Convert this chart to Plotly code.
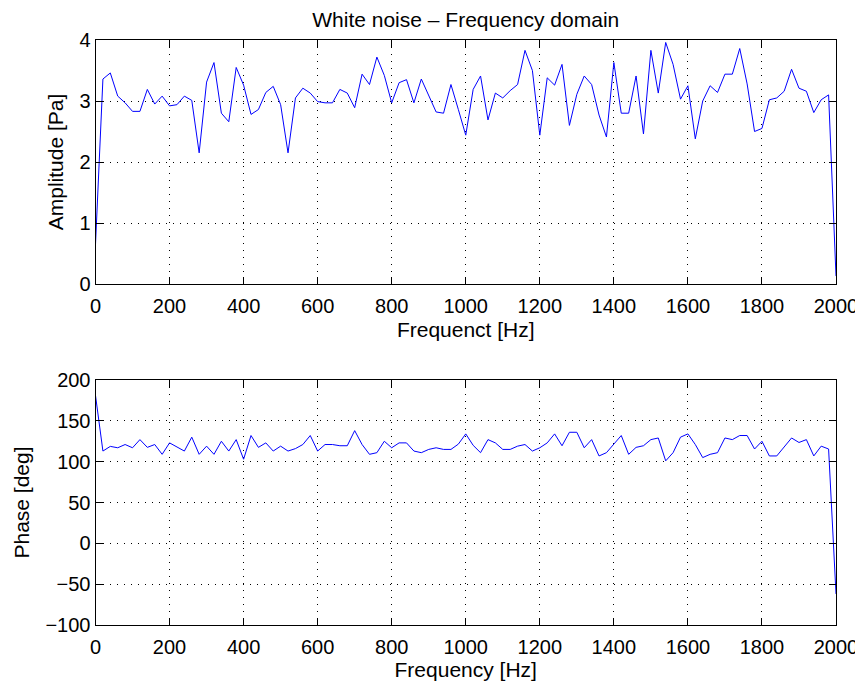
import plotly.graph_objects as go
from plotly.subplots import make_subplots

freq_hz = [0, 20, 40, 60, 80, 100, 120, 140, 160, 180, 200, 220, 240, 260, 280, 300, 320, 340, 360, 380,
           400, 420, 440, 460, 480, 500, 520, 540, 560, 580, 600, 620, 640, 660, 680, 700, 720, 740, 760, 780,
           800, 820, 840, 860, 880, 900, 920, 940, 960, 980, 1000, 1020, 1040, 1060, 1080, 1100, 1120, 1140,
           1160, 1180, 1200, 1220, 1240, 1260, 1280, 1300, 1320, 1340, 1360, 1380, 1400, 1420, 1440, 1460,
           1480, 1500, 1520, 1540, 1560, 1580, 1600, 1620, 1640, 1660, 1680, 1700, 1720, 1740, 1760, 1780,
           1800, 1820, 1840, 1860, 1880, 1900, 1920, 1940, 1960, 1980, 2000]

amplitude_pa = [0.65, 3.36, 3.46, 3.08, 2.97, 2.83, 2.83, 3.19, 2.95, 3.08,
                2.92, 2.94, 3.08, 3.01, 2.15, 3.31, 3.63, 2.80, 2.66, 3.55,
                3.26, 2.78, 2.86, 3.14, 3.24, 2.94, 2.15, 3.05, 3.21, 3.13,
                2.99, 2.97, 2.97, 3.19, 3.13, 2.89, 3.44, 3.27, 3.72, 3.42,
                2.97, 3.30, 3.35, 2.97, 3.36, 3.10, 2.82, 2.80, 3.27, 2.86,
                2.44, 3.19, 3.41, 2.69, 3.13, 3.05, 3.17, 3.27, 3.83, 3.50,
                2.44, 3.38, 3.26, 3.60, 2.60, 3.11, 3.41, 3.27, 2.77, 2.41,
                3.63, 2.80, 2.80, 3.41, 2.46, 3.83, 3.13, 3.96, 3.60, 3.03,
                3.25, 2.38, 3.00, 3.25, 3.14, 3.44, 3.44, 3.86, 3.28, 2.50,
                2.55, 3.02, 3.05, 3.16, 3.52, 3.21, 3.16, 2.81, 3.02, 3.10,
                0.13]

phase_deg = [181, 113, 118.7, 117, 121, 117, 127, 117.5, 121, 109,
             123, 118, 113, 130, 109, 119, 109, 125, 113, 127,
             103, 132, 117.5, 123, 113, 119, 113, 116, 121, 132,
             113, 121, 121, 119.5, 119.5, 138, 121, 109, 111, 125,
             117, 123, 123, 113, 111, 115, 117, 115, 115, 121.5,
             134, 120, 111, 127, 123, 115, 115, 119, 121, 113,
             117, 123, 134, 119.5, 136, 136, 117, 127, 107, 111,
             121, 132, 109, 117.5, 119.5, 127, 129, 101, 111, 130,
             134, 121, 105, 109, 111, 129, 127, 132, 132, 115.5,
             125, 107, 107, 117.5, 129, 123.5, 127, 107, 119, 115.5,
             -62]

x_ticks = [0, 200, 400, 600, 800, 1000, 1200, 1400, 1600, 1800, 2000]
amp_ticks = [0, 1, 2, 3, 4]
phase_ticks = [-100, -50, 0, 50, 100, 150, 200]

# The page body has an 8px margin, so the figure is sized and laid out to fill the window from there.
OFF = 8
W, H = 863 - OFF, 681 - OFF
FONT = "Liberation Sans, Arial, Helvetica, sans-serif"


def px_x(p):
    return (p - OFF) / W


def px_y(p):
    return 1 - (p - OFF) / H


fig = make_subplots(rows=2, cols=1)
fig.add_trace(go.Scatter(x=freq_hz, y=amplitude_pa, mode="lines",
                         line=dict(color="#0000ff", width=1), showlegend=False), row=1, col=1)
fig.add_trace(go.Scatter(x=freq_hz, y=phase_deg, mode="lines",
                         line=dict(color="#0000ff", width=1), showlegend=False), row=2, col=1)

xdom = [px_x(95.5), px_x(836)]
axis_common = dict(
    automargin=False,
    showline=True, linecolor="black", linewidth=1, mirror="ticks",
    ticks="inside", ticklen=7, tickcolor="black", tickwidth=1,
    showgrid=True, gridcolor="black", gridwidth=1, griddash="1px,6px",
    zeroline=False, tickfont=dict(size=20, color="black", family=FONT),
    title_font=dict(size=21, color="black", family=FONT),
)

fig.update_xaxes(**axis_common)
fig.update_yaxes(**axis_common)

fig.update_layout(
    width=W, height=H,
    margin=dict(l=0, r=0, t=0, b=0, autoexpand=False),
    paper_bgcolor="white", plot_bgcolor="white",
    font=dict(family=FONT, color="black"),
    title=dict(text="White noise \u2013 Frequency domain", x=(px_x(95.5) + px_x(836)) / 2, xanchor="center",
               y=px_y(20), yanchor="middle", xref="paper", yref="paper", automargin=False,
               font=dict(size=21, color="black", family=FONT)),
    xaxis=dict(domain=xdom, range=[0, 2000], tickvals=x_ticks, ticklabelstandoff=4,
               title=dict(text="Frequenct [Hz]", standoff=6)),
    yaxis=dict(domain=[px_y(284), px_y(40)], range=[0, 4], tickvals=amp_ticks,
               title=dict(text="Amplitude [Pa]", standoff=10)),
    xaxis2=dict(domain=xdom, range=[0, 2000], tickvals=x_ticks, ticklabelstandoff=4,
                title=dict(text="Frequency [Hz]", standoff=6)),
    yaxis2=dict(domain=[px_y(625), px_y(380)], range=[-100, 200], tickvals=phase_ticks,
                title=dict(text="Phase [deg]", standoff=10)),
)

fig.write_html("out.html")
